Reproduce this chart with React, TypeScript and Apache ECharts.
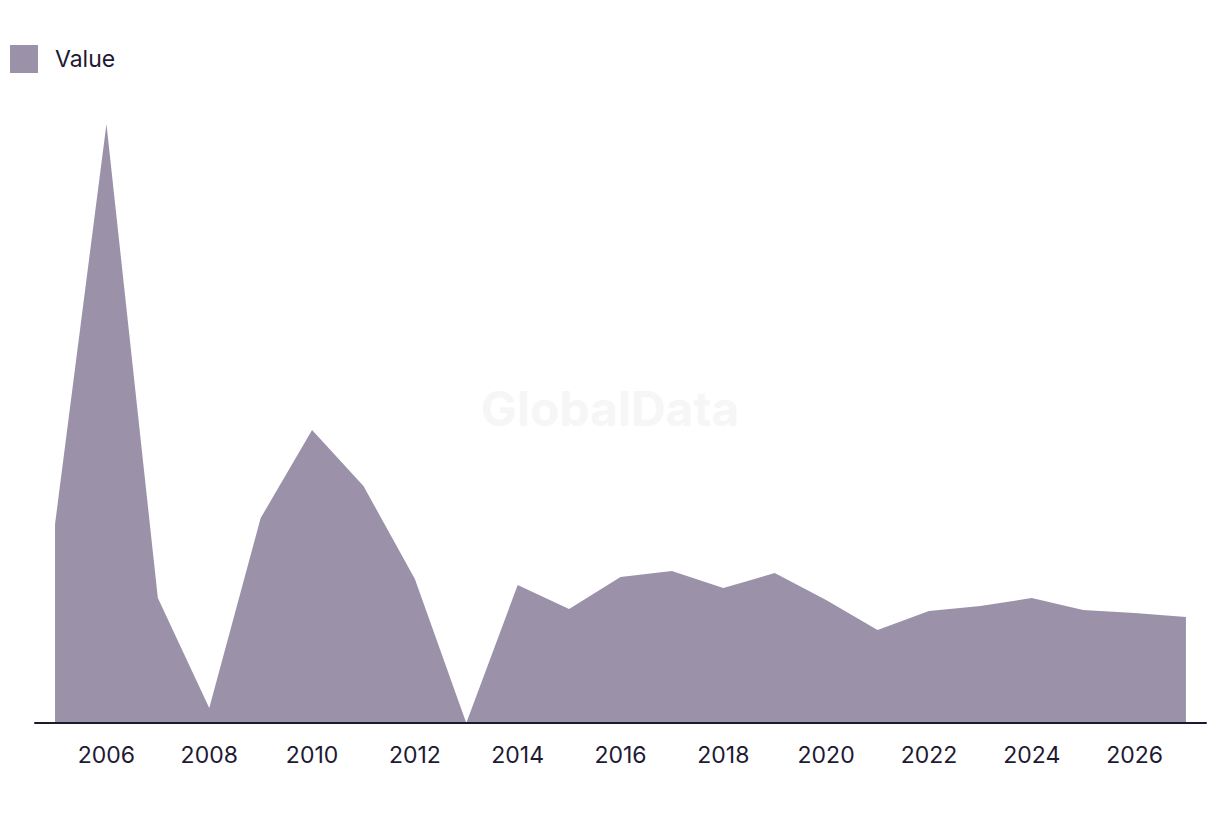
import React, { useEffect, useRef } from "react";
import * as echarts from "echarts";

const years = [2005, 2006, 2007, 2008, 2009, 2010, 2011, 2012, 2013, 2014, 2015, 2016, 2017, 2018, 2019, 2020, 2021, 2022, 2023, 2024, 2025, 2026, 2027];
const values = [1.99, 5.99, 1.25, 0.15, 2.05, 2.93, 2.37, 1.44, 0.0, 1.38, 1.14, 1.46, 1.52, 1.35, 1.5, 1.23, 0.93, 1.12, 1.17, 1.25, 1.13, 1.1, 1.06];
const tickLabels = [2006, 2008, 2010, 2012, 2014, 2016, 2018, 2020, 2022, 2024, 2026];
const seriesName = "Value";

export default function App() {
  const ref = useRef<HTMLDivElement>(null);
  useEffect(() => {
    if (!ref.current) return;
    const chart = echarts.init(ref.current, null, { renderer: "svg" });
    const font = "Inter, 'Noto Sans', sans-serif";
    chart.setOption({
      animation: false,
      backgroundColor: "#ffffff",
      textStyle: { fontFamily: font },
      legend: {
        show: true,
        left: 10,
        top: 45,
        padding: 0,
        icon: "rect",
        itemWidth: 28,
        itemHeight: 28,
        textStyle: { fontSize: 23, color: "#1e1a33", fontFamily: font, padding: [0, 0, 0, 12] },
        data: [seriesName],
      },
      graphic: [
        {
          type: "text",
          left: "center",
          top: 384,
          z: 0,
          style: {
            text: "GlobalData",
            font: "bold 48px Inter, 'Noto Sans', sans-serif",
            fill: "#f6f6f6",
          },
        },
      ],
      grid: { left: 35, right: 14, top: 100, bottom: 91, containLabel: false },
      xAxis: {
        type: "value",
        min: 2004.61,
        max: 2027.39,
        axisLine: { show: true, lineStyle: { color: "#1a1a2e", width: 2 } },
        axisTick: { show: false },
        splitLine: { show: false },
        axisLabel: {
          customValues: tickLabels,
          fontSize: 23,
          color: "#1e1a33",
          margin: 20,
          fontFamily: font,
          formatter: (v: number) => String(v),
        },
        z: 10,
      },
      yAxis: {
        type: "value",
        min: 0,
        max: 6.23,
        show: false,
        splitLine: { show: false },
      },
      series: [
        {
          name: seriesName,
          type: "line",
          data: years.map((y, i) => [y, values[i]]),
          symbol: "none",
          lineStyle: { width: 0, color: "#9b92aa" },
          itemStyle: { color: "#9b92aa" },
          areaStyle: { color: "#9b92aa", opacity: 1 },
          z: 2,
        },
      ],
    });
    return () => chart.dispose();
  }, []);
  return <div ref={ref} style={{ position: "fixed", left: 0, top: 0, width: 1220, height: 814 }} />;
}
